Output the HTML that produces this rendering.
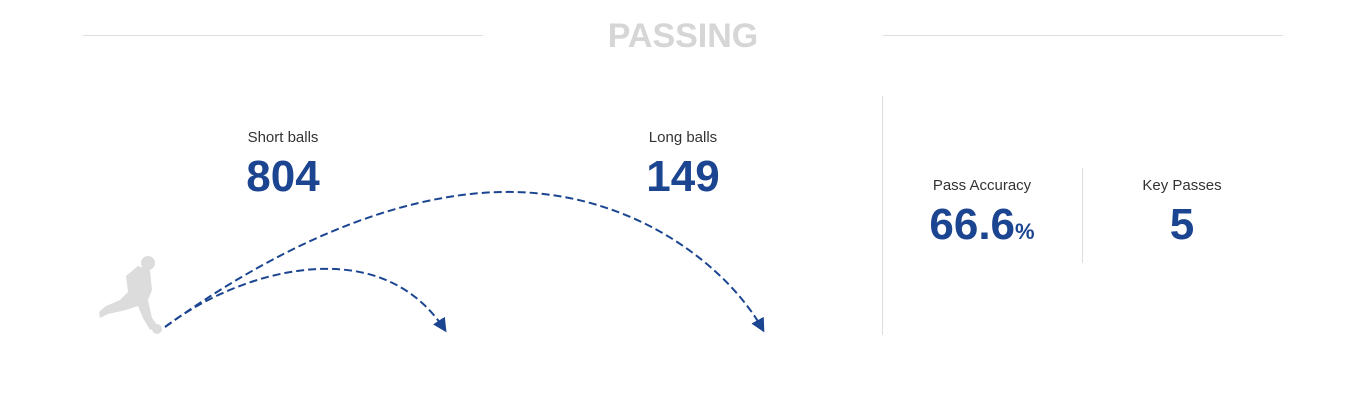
<!DOCTYPE html>
<html><head><meta charset="utf-8"><style>
body{margin:0;width:1366px;height:408px;background:#fff;overflow:hidden;font-family:"Liberation Sans",sans-serif}
.t{position:absolute;text-align:center;width:200px}
.lbl{font-size:15px;color:#333}
.num{font-size:44px;font-weight:bold;color:#1b4590;letter-spacing:0}
</style></head><body>
<div style="position:relative;width:1366px;height:408px">
<div style="position:absolute;left:83px;top:35px;width:400px;height:1px;background:#ddd"></div>
<div style="position:absolute;left:883px;top:35px;width:400px;height:1px;background:#ddd"></div>
<div class="t" style="left:583px;top:17px;font-size:34px;font-weight:bold;color:#d6d6d6">PASSING</div>

<div class="t lbl" style="left:183px;top:129px">Short balls</div>
<div class="t num" style="left:183px;top:152px">804</div>
<div class="t lbl" style="left:583px;top:129px">Long balls</div>
<div class="t num" style="left:583px;top:152px">149</div>

<div style="position:absolute;left:882px;top:96px;width:1px;height:239px;background:#ddd"></div>
<div style="position:absolute;left:1082px;top:168px;width:1px;height:95px;background:#ddd"></div>
<div class="t lbl" style="left:882px;top:177px">Pass Accuracy</div>
<div class="t num" style="left:882px;top:200px">66.6<span style="font-size:22px">%</span></div>
<div class="t lbl" style="left:1082px;top:177px">Key Passes</div>
<div class="t num" style="left:1082px;top:200px">5</div>

<svg width="1366" height="408" style="position:absolute;left:0;top:0">
<defs><marker id="ah" viewBox="0 0 10 10" refX="8" refY="5" markerWidth="7" markerHeight="7" orient="auto"><path d="M0,0L10,5L0,10z" fill="#1b4590"/></marker></defs>
<g fill="#dcdcdc">
<circle cx="148" cy="263" r="7"/>
<path d="M138 266 L150 270 L152 290 L148 300 L152 318 L158 326 L150 330 L143 318 L138 306 L126 310 L108 314 L100 318 L99 312 L106 306 L120 300 L128 292 L126 276 Z"/>
<circle cx="157" cy="329" r="5"/>
</g>
<path d="M165 327 C240 270 380 230 445 330" fill="none" stroke="#1b4590" stroke-width="2" stroke-dasharray="8,4" marker-end="url(#ah)"/>
<path d="M165 327 C300 230 420 190 515 192 C640 195 730 270 763 330" fill="none" stroke="#1b4590" stroke-width="2" stroke-dasharray="8,4" marker-end="url(#ah)"/>
</svg>
</div>
</body></html>
